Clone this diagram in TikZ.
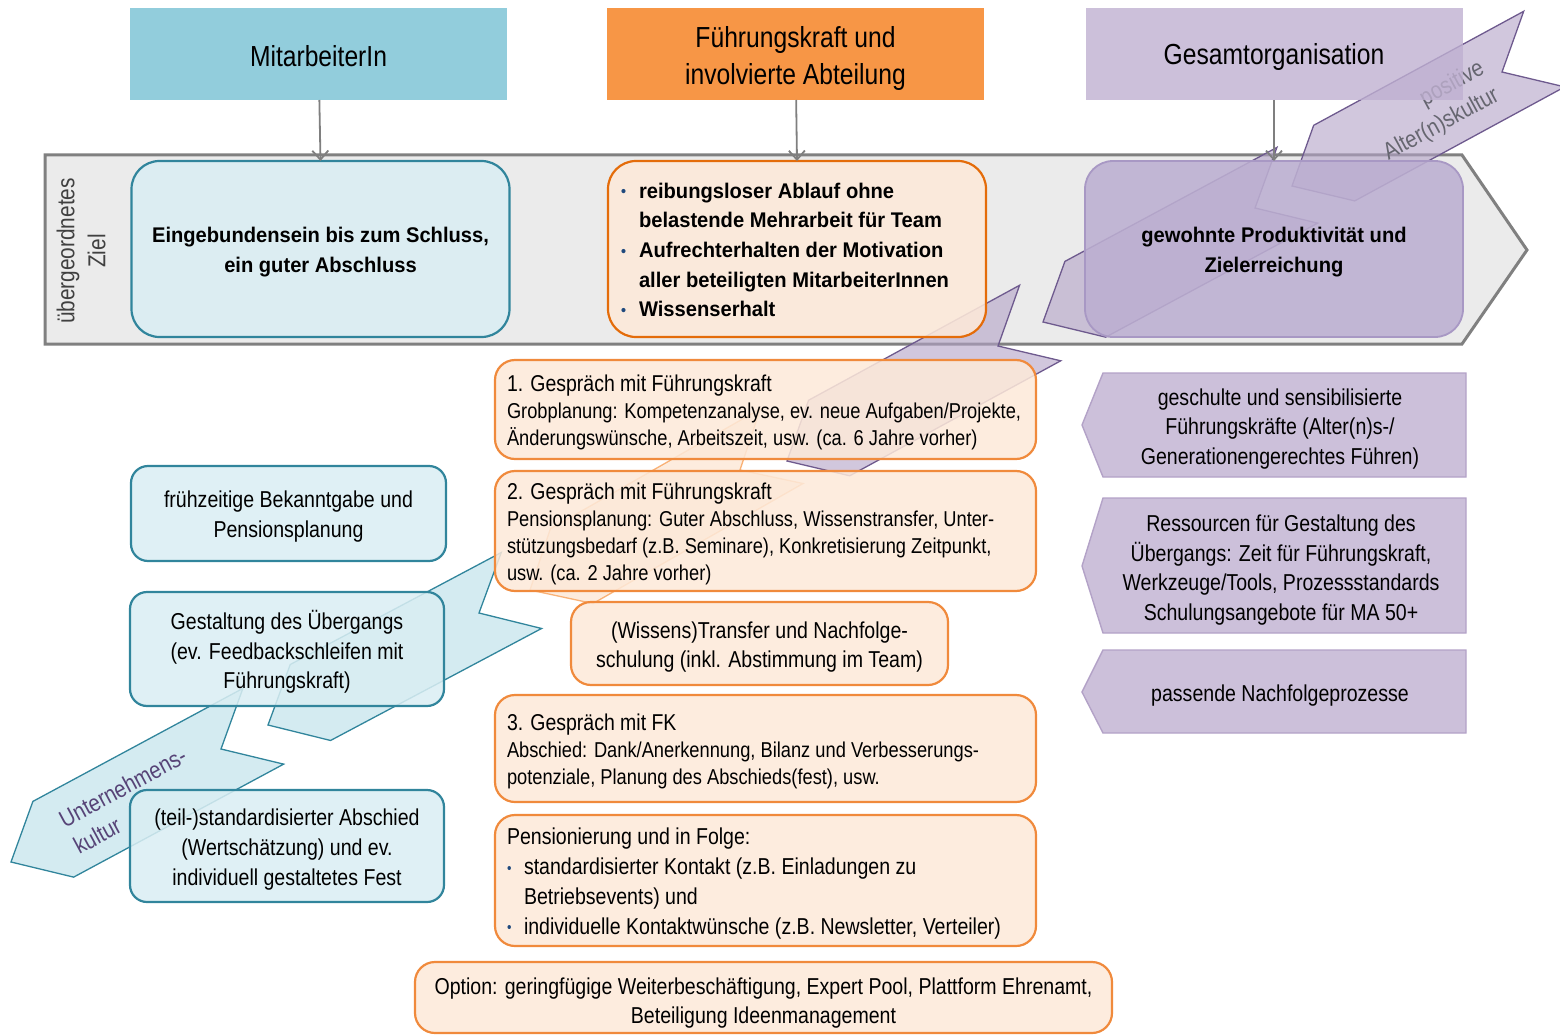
\documentclass[tikz,border=0pt]{standalone}
\usepackage{fontspec}
\setmainfont{Liberation Sans}[FakeStretch=0.85]
\newfontfamily\boldfont{Liberation Sans}[FakeStretch=0.95]
\usetikzlibrary{calc,arrows.meta}

\definecolor{hblue}{HTML}{92CDDC}
\definecolor{horange}{HTML}{F79646}
\definecolor{hpurpleT}{HTML}{BFB0D1}
\definecolor{lblue}{HTML}{DAEEF3}
\definecolor{dblue}{HTML}{31859C}
\definecolor{cblue}{HTML}{B7DEE8}
\definecolor{lorange}{HTML}{FDE9D9}
\definecolor{dorange}{HTML}{E46C0A}
\definecolor{morange}{HTML}{F08A3C}
\definecolor{corange}{HTML}{FBD5B5}
\definecolor{lpurple}{HTML}{CCC0DA}
\definecolor{mpurple}{HTML}{B3A2C7}
\definecolor{gpurple}{HTML}{BCAFD1}
\definecolor{gpurpleline}{HTML}{A898C4}
\definecolor{dpurple}{HTML}{6E5A8E}
\definecolor{bandfill}{HTML}{EBEBEB}
\definecolor{bandline}{HTML}{808080}
\definecolor{harr}{HTML}{7F7F7F}
\definecolor{bulc}{HTML}{1F497D}
\definecolor{zieltxt}{HTML}{404040}
\definecolor{ukult}{HTML}{574477}
\definecolor{akult}{HTML}{666670}

\newcommand{\fsHdr}{\fontsize{29}{37}\selectfont}
\newcommand{\fsGoal}{\boldfont\bfseries\fontsize{21.2}{29.6}\selectfont}
\newcommand{\fsBody}{\fontsize{23}{29.7}\selectfont}
\newcommand{\fsTitle}{\fontsize{22.9}{28}\selectfont}
\newcommand{\fsSub}{\fontsize{21.5}{27}\selectfont}
\newcommand{\fsChev}{\fontsize{24}{30.5}\selectfont}
\newcommand{\blt}[1]{\makebox[#1][l]{\textcolor{bulc}{\fontsize{15}{15}\selectfont\raisebox{1.5pt}{•}}}}

% chevron from tip to notch (depth 48, half width 43)
\newcommand{\chev}[3]{%
  \coordinate (cT) at (#2);
  \coordinate (cN) at (#3);
  \coordinate (cF) at ($(cT)!48pt!(cN)$);
  \coordinate (cB) at ($(cN)!-48pt!(cT)$);
  \path[#1] (cT) -- ($(cF)!43pt!90:(cN)$) -- ($(cB)!43pt!-90:(cT)$) -- (cN)
     -- ($(cB)!43pt!90:(cT)$) -- ($(cF)!43pt!-90:(cN)$) -- cycle;
}

\begin{document}
\begin{tikzpicture}[x=1pt,y=-1pt,
  every node/.style={inner sep=0pt, outer sep=0pt},
  hdr/.style={rectangle, minimum width=377pt, minimum height=92pt},
  hdrtxt/.style={font=\fsHdr, align=center, text=black},
  goalbox/.style={rectangle, rounded corners=28pt, line width=2.2pt, minimum width=378pt, minimum height=176pt, fill opacity=0.88},
  goaltxt/.style={align=center, font=\fsGoal},
  mbox/.style={rectangle, rounded corners=20pt, draw=morange, fill=lorange, line width=2.2pt, fill opacity=0.86},
  lbox/.style={rectangle, rounded corners=17pt, draw=dblue, fill=lblue, line width=2.2pt, fill opacity=0.86},
  btxt/.style={align=center, font=\fsBody},
  rshape/.style={draw=mpurple, fill=lpurple, line width=1.4pt},
  ltext/.style={anchor=west, align=left},
  pchev/.style={fill=mpurple, fill opacity=0.6, draw=dpurple, line width=1.3pt},
  ochev/.style={fill=corange, fill opacity=0.45, draw=horange, draw opacity=0.7, line width=1.3pt},
  bchev/.style={fill=cblue, fill opacity=0.6, draw=dblue, line width=1.3pt},
  harrow/.style={draw=harr, line width=1.8pt, -{Straight Barb[length=9pt,width=16pt]}},
]
\useasboundingbox (0,0) rectangle (1560,1035);

% headers (blue, orange)
\node[hdr, fill=hblue] (h1) at (318.5,54) {};
\node[hdrtxt] (h1t) at (318.5,56) {MitarbeiterIn};
\node[hdr, fill=horange] (h2) at (795.5,54) {};
\node[hdrtxt] (h2t) at (795.5,59) {Führungskraft und\\involvierte Abteilung};

% goal band
\path[draw=bandline, fill=bandfill, line width=3pt] (45,155) -- (1462,155) -- (1527,250) -- (1462,344) -- (45,344) -- cycle;
\node[rotate=90, align=center, font=\fontsize{24.5}{31}\selectfont, text=zieltxt] (ziel) at (81,251) {übergeordnetes\\Ziel};

% chevrons
\chev{pchev}{1292,186}{1502,72}
\chev{pchev}{1043,322}{1255,208}
\chev{pchev}{787,461}{998,346}
\chev{ochev}{530,590}{740,470}
\chev{bchev}{268,725}{479,613}
\chev{bchev}{11,862}{221,749}
\node[rotate=28.3, anchor=west, align=left, font=\fsChev, text=ukult] (ukultur) at (68,834) {Unternehmens-\\kultur};
\node[rotate=28.5, anchor=east, align=right, font=\fsChev, text=akult] (akultur) at (1490,81) {positive\\Alter(n)skultur};

% purple header (semi-transparent over chevron)
\node[hdr, fill=hpurpleT, fill opacity=0.8] (h3) at (1274,54) {};
\node[hdrtxt] (h3t) at (1274,57) {Gesamtorganisation};

% goal boxes
\node[goalbox, draw=dblue, fill=lblue] (g1) at (320.5,249) {};
\node[goaltxt] (g1t) at (320.5,252) {Eingebundensein bis zum Schluss,\\ein guter Abschluss};
\node[goalbox, draw=dorange, fill=lorange] (g2) at (797,249) {};
\node[ltext, font=\fsGoal] (g2t) at (621,250) {\blt{18pt}reibungsloser Ablauf ohne\\\hspace*{18pt}belastende Mehrarbeit für Team\\\blt{18pt}Aufrechterhalten der Motivation\\\hspace*{18pt}aller beteiligten MitarbeiterInnen\\\blt{18pt}Wissenserhalt};
\node[goalbox, draw=gpurpleline, fill=gpurple, line width=1.8pt] (g3) at (1274,249) {};
\node[goaltxt] (g3t) at (1274,252) {gewohnte Produktivität und\\Zielerreichung};

% header arrows
\draw[harrow] (h1) -- (g1.north);
\draw[harrow] (h2) -- (g2.north);
\draw[harrow] (h3) -- (g3.north);

% middle column
\node[mbox, minimum width=541pt, minimum height=99pt] (m1) at (765.5,409.5) {};
\node[ltext, font=\fsSub] (m1t) at (507,412) {{\fsTitle 1. Gespräch mit Führungskraft}\\Grobplanung: Kompetenzanalyse, ev. neue Aufgaben/Projekte,\\Änderungswünsche, Arbeitszeit, usw. (ca. 6 Jahre vorher)};
\node[mbox, minimum width=541pt, minimum height=120pt] (m2) at (765.5,531) {};
\node[ltext, font=\fsSub] (m2t) at (507,533.5) {{\fsTitle 2. Gespräch mit Führungskraft}\\Pensionsplanung: Guter Abschluss, Wissenstransfer, Unter-\\stützungsbedarf (z.B. Seminare), Konkretisierung Zeitpunkt,\\usw. (ca. 2 Jahre vorher)};
\node[mbox, minimum width=377pt, minimum height=83pt] (m3) at (759.5,643.5) {};
\node[btxt] (m3t) at (759.5,647) {(Wissens)Transfer und Nachfolge-\\schulung (inkl. Abstimmung im Team)};
\node[mbox, minimum width=541pt, minimum height=107pt] (m4) at (765.5,748.5) {};
\node[ltext, font=\fsSub] (m4t) at (507,751.5) {{\fsTitle 3. Gespräch mit FK}\\Abschied: Dank/Anerkennung, Bilanz und Verbesserungs-\\potenziale, Planung des Abschieds(fest), usw.};
\node[mbox, minimum width=541pt, minimum height=131pt] (m5) at (765.5,880.5) {};
\node[ltext, font=\fsBody] (m5t) at (507,883.5) {Pensionierung und in Folge:\\\blt{17pt}standardisierter Kontakt (z.B. Einladungen zu\\\hspace*{17pt}Betriebsevents) und\\\blt{17pt}individuelle Kontaktwünsche (z.B. Newsletter, Verteiler)};
\node[mbox, minimum width=697pt, minimum height=71pt] (m6) at (763.5,997.5) {};
\node[btxt] (m6t) at (763.5,1003) {Option: geringfügige Weiterbeschäftigung, Expert Pool, Plattform Ehrenamt,\\Beteiligung Ideenmanagement};

% left column
\node[lbox, minimum width=315pt, minimum height=95pt] (l1) at (288.5,513.5) {};
\node[btxt] (l1t) at (288.5,516.5) {frühzeitige Bekanntgabe und\\Pensionsplanung};
\node[lbox, minimum width=314pt, minimum height=114pt] (l2) at (287,649) {};
\node[btxt] (l2t) at (287,652) {Gestaltung des Übergangs\\(ev. Feedbackschleifen mit\\Führungskraft)};
\node[lbox, minimum width=314pt, minimum height=112pt] (l3) at (287,846) {};
\node[btxt] (l3t) at (287,849.5) {(teil-)standardisierter Abschied\\(Wertschätzung) und ev.\\individuell gestaltetes Fest};

% right column
\path[rshape] (1103,373) -- (1466,373) -- (1466,477) -- (1103,477) -- (1082,425) -- cycle;
\node[btxt] (r1) at (1280,429) {geschulte und sensibilisierte\\Führungskräfte (Alter(n)s-/\\Generationengerechtes Führen)};
\path[rshape] (1103,498) -- (1466,498) -- (1466,633) -- (1103,633) -- (1082,566) -- cycle;
\node[btxt] (r2) at (1281,570) {Ressourcen für Gestaltung des\\Übergangs: Zeit für Führungskraft,\\Werkzeuge/Tools, Prozessstandards\\Schulungsangebote für MA 50+};
\path[rshape] (1103,650) -- (1466,650) -- (1466,733) -- (1103,733) -- (1082,692) -- cycle;
\node[btxt] (r3) at (1280,696) {passende Nachfolgeprozesse};
\end{tikzpicture}
\end{document}
